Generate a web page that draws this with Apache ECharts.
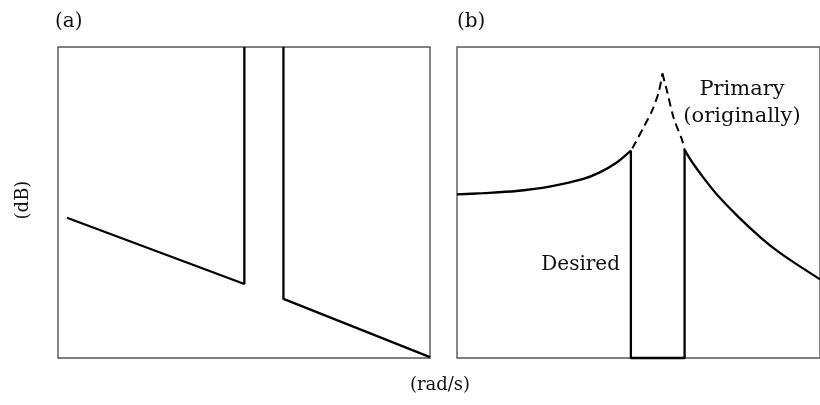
<!DOCTYPE html>
<html>
<head>
<meta charset="utf-8">
<script src="https://cdn.jsdelivr.net/npm/echarts@6/dist/echarts.min.js"></script>
<style>
  html, body { margin: 0; padding: 0; background: #fff; }
  #chart { width: 820px; height: 405px; }
</style>
</head>
<body>
<div id="chart"></div>
<script>
// Frequency axis runs 0..100 (rad/s, arbitrary units), magnitude 0..100 (dB, arbitrary units).

// (a) magnitude shape with a notch opening to the top
const aLowerBand = [[2.4, 45.1], [50.1, 23.8], [50.1, 100]];
const aUpperBand = [[60.6, 100], [60.6, 19.0], [100, 0.3]];

// (b) desired response: rising part, notch, falling part
const bRising = [[0, 52.6], [7.2, 53.0], [16.4, 53.7], [25.5, 55.1], [34.6, 57.5],
                 [39.2, 59.6], [43.7, 62.6], [47.9, 66.7]];
const bNotch = [[47.9, 66.7], [47.9, 0], [62.7, 0], [62.7, 66.9]];
const bFalling = [[62.7, 66.9], [64.7, 63.1], [68.4, 57.2], [72.1, 51.9], [77.5, 45.4],
                  [83.9, 38.5], [88.5, 34.2], [93.1, 30.5], [100, 25.3]];

// (b) original primary resonance peak (dashed)
const peakUp = [[48.3, 67.4], [51.5, 74.4], [53.8, 79.7], [55.6, 85.6], [56.6, 91.5]];
const peakDown = [[56.6, 91.5], [57.9, 85.6], [59.7, 77.1], [62.0, 70.1], [62.7, 66.9]];

const panelTitles = ['(a)', '(b)'];
const yUnit = '(dB)';
const xUnit = '(rad/s)';
const primaryLabel = 'Primary\n(originally)';
const desiredLabel = 'Desired';

const FONT = '"DejaVu Serif", serif';
const solid = { color: '#000', width: 2.3 };

function line(data, gridIdx, smooth, dashed) {
  return {
    type: 'line',
    xAxisIndex: gridIdx,
    yAxisIndex: gridIdx,
    data: data,
    smooth: smooth,
    symbol: 'none',
    clip: false,
    silent: true,
    lineStyle: Object.assign({}, solid, dashed ? { type: [8, 5], width: 2 } : {})
  };
}

const axisX = (i) => ({ type: 'value', gridIndex: i, min: 0, max: 100, show: false });
const axisY = (i) => ({ type: 'value', gridIndex: i, min: 0, max: 100, show: false });

const titleStyle = { fontFamily: FONT, fontSize: 20, fontWeight: 'normal', color: '#111' };

const chart = echarts.init(document.getElementById('chart'), null, { renderer: 'canvas' });
chart.setOption({
  animation: false,
  backgroundColor: '#fff',
  grid: [
    { left: 58, top: 47, width: 372, height: 311, show: true, borderColor: '#555', borderWidth: 1.4 },
    { left: 457, top: 47, right: -3, height: 311, show: true, borderColor: '#555', borderWidth: 1.4 }
  ],
  xAxis: [axisX(0), axisX(1)],
  yAxis: [axisY(0), axisY(1)],
  title: [
    { text: panelTitles[0], left: 50, top: 7, textStyle: titleStyle },
    { text: panelTitles[1], left: 452, top: 7, textStyle: titleStyle }
  ],
  graphic: [
    { type: 'text', x: 23, y: 200, rotation: Math.PI / 2,
      style: { text: yUnit, font: '18px ' + FONT, fill: '#111', textAlign: 'center', textVerticalAlign: 'middle' } },
    { type: 'text', x: 440, y: 385,
      style: { text: xUnit, font: '18px ' + FONT, fill: '#111', textAlign: 'center', textVerticalAlign: 'middle' } },
    { type: 'text', x: 742, y: 103,
      style: { text: primaryLabel, font: '21px ' + FONT, fill: '#111', textAlign: 'center', textVerticalAlign: 'middle', lineHeight: 27 } },
    { type: 'text', x: 620, y: 265,
      style: { text: desiredLabel, font: '20px ' + FONT, fill: '#111', textAlign: 'right', textVerticalAlign: 'middle' } }
  ],
  series: [
    line(aLowerBand, 0, false, false),
    line(aUpperBand, 0, false, false),
    line(bRising, 1, 0.3, false),
    line(bNotch, 1, false, false),
    line(bFalling, 1, 0.3, false),
    line(peakUp, 1, 0.3, true),
    line(peakDown, 1, 0.3, true)
  ]
});
</script>
</body>
</html>
